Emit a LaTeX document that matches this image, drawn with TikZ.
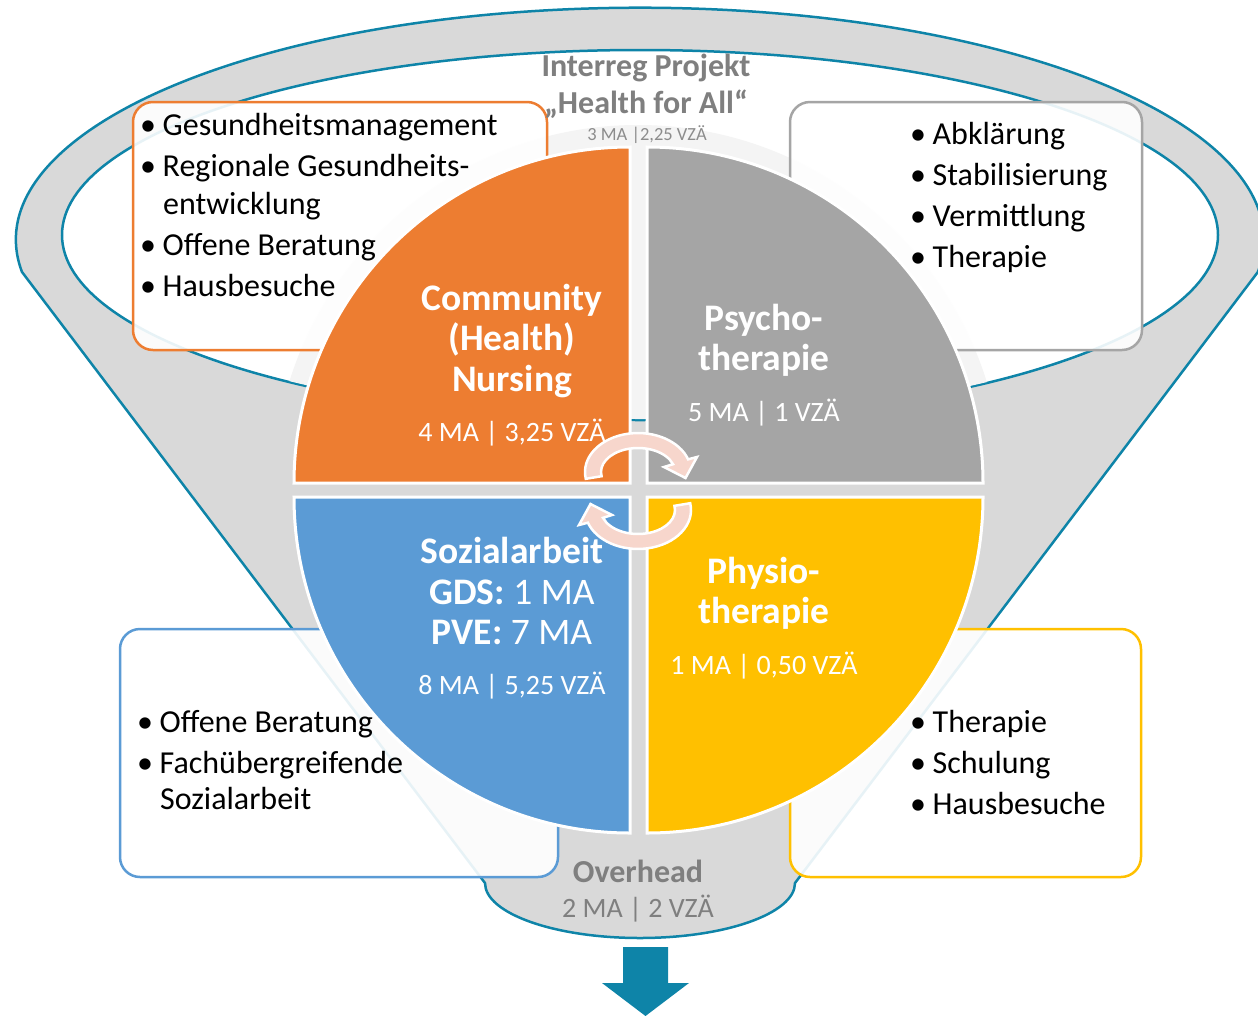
\documentclass[tikz,border=0pt]{standalone}
\usepackage{fontspec}
\setmainfont{Carlito}
\definecolor{corange}{HTML}{ED7D31}
\definecolor{cgray}{HTML}{A5A5A5}
\definecolor{cblue}{HTML}{5B9BD5}
\definecolor{cyellow}{HTML}{FFC000}
\definecolor{funnelgray}{HTML}{D9D9D9}
\definecolor{cteal}{HTML}{0E84A8}
\definecolor{ctext}{HTML}{7F7F7F}
\definecolor{csmall}{HTML}{8C8C8C}
\definecolor{cpink}{HTML}{F7D6CC}
\definecolor{chalo}{HTML}{F4F4F4}
\newcommand{\bul}{\makebox[22.5pt][l]{•}}
\begin{document}
\begin{tikzpicture}[x=1pt,y=-1pt,
  funnel/.style={fill=funnelgray, draw=cteal, line width=2.5pt},
  innerell/.style={fill=white, draw=cteal, line width=2.5pt},
  infobox/.style={fill=white, fill opacity=0.9, line width=2.5pt, rounded corners=20pt},
  item/.style={anchor=base west, inner sep=0pt, font=\fontsize{32}{38}\selectfont},
  quadrant/.style={draw=white, line width=3pt},
  qtitle/.style={anchor=base, inner sep=0pt, text=white, font=\bfseries\fontsize{37.5}{42}\selectfont},
  qnum/.style={anchor=base, inner sep=0pt, text=white, font=\fontsize{28}{32}\selectfont},
  cycarrow/.style={fill=cpink, draw=white, line width=2.5pt},
  gtitle/.style={anchor=base, inner sep=0pt, text=ctext, font=\bfseries\fontsize{32}{36}\selectfont},
  gnum/.style={anchor=base, inner sep=0pt, text=ctext, font=\fontsize{28}{32}\selectfont},
]
\useasboundingbox (0,0) rectangle (1258,1015);

% funnel
\draw[funnel] (22,272) arc[start angle=172, end angle=368, x radius=624, y radius=232]
  -- (795,883) arc[start angle=0, end angle=180, x radius=155, y radius=55] -- cycle;
\draw[innerell] (640,235) ellipse [x radius=578, y radius=185];
\begin{scope}
  \clip (640,235) ellipse [x radius=577, y radius=184];
  \fill[chalo] (638,490) circle[radius=365];
\end{scope}

% boxes
\draw[infobox, draw=corange] (133,102) rectangle (547,350);
\draw[infobox, draw=cgray] (790,102) rectangle (1142,350);
\draw[infobox, draw=cblue] (120,629) rectangle (558,877);
\draw[infobox, draw=cyellow] (790,629) rectangle (1141,877);

% box texts
\node[item] (o1) at (140,135) {\bul Gesundheitsmanagement};
\node[item] (o2) at (140,176) {\bul Regionale Gesundheits-};
\node[item] (o2b) at (163,214) {entwicklung};
\node[item] (o3) at (140,255) {\bul Offene Beratung};
\node[item] (o4) at (140,296) {\bul Hausbesuche};

\node[item] (g1) at (910,144) {\bul Abklärung};
\node[item] (g2) at (910,185) {\bul Stabilisierung};
\node[item] (g3) at (910,226) {\bul Vermittlung};
\node[item] (g4) at (910,267) {\bul Therapie};

\node[item] (b1) at (137,732) {\bul Offene Beratung};
\node[item] (b2) at (137,773) {\bul Fachübergreifende};
\node[item] (b2b) at (160,809) {Sozialarbeit};

\node[item] (y1) at (910,732) {\bul Therapie};
\node[item] (y2) at (910,773) {\bul Schulung};
\node[item] (y3) at (910,814) {\bul Hausbesuche};

% pie quadrants
\draw[quadrant, fill=corange] (630,483) -- (294,483) arc[start angle=180, end angle=270, radius=336] -- cycle;
\draw[quadrant, fill=cgray] (647,483) -- (647,147) arc[start angle=270, end angle=360, radius=336] -- cycle;
\draw[quadrant, fill=cblue] (630,497) -- (294,497) arc[start angle=180, end angle=90, radius=336] -- cycle;
\draw[quadrant, fill=cyellow] (647,497) -- (983,497) arc[start angle=0, end angle=90, radius=336] -- cycle;

% quadrant texts
\node[qtitle] (cn1) at (512,310) {Community};
\node[qtitle] (cn2) at (512,350) {(Health)};
\node[qtitle] (cn3) at (512,391) {Nursing};
\node[qnum] (cn4) at (512,441) {4 MA | 3,25 VZÄ};

\node[qtitle] (pt1) at (764,330) {Psycho-};
\node[qtitle] (pt2) at (764,370) {therapie};
\node[qnum] (pt3) at (764,421) {5 MA | 1 VZÄ};

\node[qtitle] (sa1) at (512,563) {Sozialarbeit};
\node[qtitle] (sa2) at (512,604) {GDS: \mdseries 1 MA};
\node[qtitle] (sa3) at (512,644) {PVE: \mdseries 7 MA};
\node[qnum] (sa4) at (512,694) {8 MA | 5,25 VZÄ};

\node[qtitle] (ph1) at (764,583) {Physio-};
\node[qtitle] (ph2) at (764,623) {therapie};
\node[qnum] (ph3) at (764,674) {1 MA | 0,50 VZÄ};

% cycle arrows
\draw[cycarrow] (585.8,478.8) arc[start angle=170, end angle=341, x radius=53, y radius=39]
  -- (697,457) -- (685.5,478) -- (664,467) -- (673,464.2)
  arc[start angle=341, end angle=170, x radius=37, y radius=24] -- cycle;
\begin{scope}[rotate around={180:(638,491)}]
\draw[cycarrow] (585.8,478.8) arc[start angle=170, end angle=341, x radius=53, y radius=39]
  -- (697,457) -- (685.5,478) -- (664,467) -- (673,464.2)
  arc[start angle=341, end angle=170, x radius=37, y radius=24] -- cycle;
\end{scope}

% titles
\node[gtitle] (it1) at (646,76) {Interreg Projekt};
\node[gtitle] (it2) at (646,113) {„Health for All“};
\node[anchor=base, inner sep=0pt, text=csmall, font=\fontsize{18.5}{20}\selectfont] (it3) at (647,140) {3 MA |2,25 VZÄ};

\node[gtitle] (ov1) at (638,882) {Overhead};
\node[gnum] (ov2) at (638,917) {2 MA | 2 VZÄ};

% bottom arrow
\fill[cteal] (623,947) -- (668,947) -- (668,983) -- (689,983) -- (645.5,1016) -- (602,983) -- (623,983) -- cycle;
\end{tikzpicture}
\end{document}
